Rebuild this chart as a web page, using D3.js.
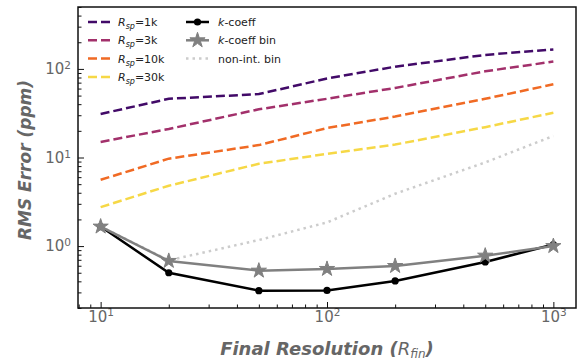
<!DOCTYPE html>
<html>
<head>
<meta charset="utf-8">
<script src="https://cdn.jsdelivr.net/npm/d3@7"></script>
<style>
body { margin: 0; background: #fff; }
svg { display: block; font-family: "DejaVu Sans", sans-serif; }
</style>
</head>
<body>
<svg id="chart" width="583" height="360"></svg>
<script>
// final resolution values (x)
const resolutions = [10, 20, 50, 100, 200, 500, 1000]
// RMS error in ppm
const rsp1k = [31, 46, 52, 78, 106, 144, 166]
const rsp3k = [15, 21, 35, 46, 61, 94, 121]
const rsp10k = [5.6, 9.7, 13.8, 21.5, 29, 46, 67]
const rsp30k = [2.75, 4.8, 8.5, 11, 14, 22, 32]
const kcoeff = [1.66, 0.50, 0.314, 0.316, 0.404, 0.662, 1.04]
const kcoeffBin = [1.66, 0.68, 0.528, 0.552, 0.596, 0.78, 1.0]
const nonIntBin = [1.66, 0.69, 1.17, 1.85, 3.9, 8.8, 17.5]

const xMajor = [10, 100, 1000]
const yMajor = [1, 10, 100]

const svg = d3.select("#chart")
const plotLeft = 78, plotRight = 576, plotTop = 7, plotBottom = 308

const x = d3.scaleLog().domain([Math.pow(10, 0.9), Math.pow(10, 3.1)]).range([plotLeft, plotRight])
const y = d3.scaleLog().domain([0.2, 500]).range([plotBottom, plotTop])

const line = d3.line().x(d => x(d[0])).y(d => y(d[1]))
const pairs = vals => resolutions.map((r, i) => [r, vals[i]])

// minor ticks from the scale's own tick generator
const inside = (s, v) => { const d = s.domain(); return v >= d[0] && v <= d[1] }
const xMinor = x.ticks().filter(v => inside(x, v) && !xMajor.includes(v))
const yMinor = y.ticks().filter(v => inside(y, v) && !yMajor.includes(v))

const tickColor = "#666"

function supLabel(sel) {
    sel.each(function(d) {
        const t = d3.select(this)
        const exp = Math.round(Math.log10(d))
        t.text(null)
        t.append("tspan").text("10")
        t.append("tspan").attr("dy", "-0.5em").attr("font-size", "0.7em").text(exp)
    })
}

// x axis
const gx = svg.append("g").attr("transform", `translate(0,${plotBottom})`)
gx.append("g").call(d3.axisBottom(x).tickValues(xMinor).tickSize(-3.5).tickFormat(""))
const gxMajor = gx.append("g").call(d3.axisBottom(x).tickValues(xMajor).tickSize(-6).tickPadding(3))
gx.selectAll(".domain").remove()
gx.selectAll("line").attr("stroke", "#111").attr("stroke-width", 1)
gxMajor.selectAll("text").attr("font-size", 15).attr("fill", tickColor)
    .attr("font-family", "DejaVu Sans").call(supLabel)

// y axis
const gy = svg.append("g").attr("transform", `translate(${plotLeft},0)`)
gy.append("g").call(d3.axisLeft(y).tickValues(yMinor).tickSize(-3.5).tickFormat(""))
const gyMajor = gy.append("g").call(d3.axisLeft(y).tickValues(yMajor).tickSize(-6).tickPadding(7))
gy.selectAll(".domain").remove()
gy.selectAll("line").attr("stroke", "#111").attr("stroke-width", 1)
gyMajor.selectAll("text").attr("font-size", 15).attr("fill", tickColor)
    .attr("font-family", "DejaVu Sans").call(supLabel)

// frame
svg.append("rect")
    .attr("x", plotLeft).attr("y", plotTop)
    .attr("width", plotRight - plotLeft).attr("height", plotBottom - plotTop)
    .attr("fill", "none").attr("stroke", "#111").attr("stroke-width", 1.5)

// series
const dashedSeries = [
    { label: "1k", vals: rsp1k, color: "#420a68" },
    { label: "3k", vals: rsp3k, color: "#a2306b" },
    { label: "10k", vals: rsp10k, color: "#f06a24" },
    { label: "30k", vals: rsp30k, color: "#f6d846" }
]

const plot = svg.append("g")

plot.append("path")
    .datum(pairs(nonIntBin))
    .attr("d", line)
    .attr("fill", "none")
    .attr("stroke", "#cccccc")
    .attr("stroke-width", 2.5)
    .attr("stroke-dasharray", "2.5,4")

dashedSeries.forEach(s => {
    plot.append("path")
        .datum(pairs(s.vals))
        .attr("d", line)
        .attr("fill", "none")
        .attr("stroke", s.color)
        .attr("stroke-width", 2.5)
        .attr("stroke-dasharray", "9,4")
})

plot.append("path")
    .datum(pairs(kcoeff))
    .attr("d", line)
    .attr("fill", "none")
    .attr("stroke", "#000")
    .attr("stroke-width", 2.5)
plot.selectAll(".dot")
    .data(pairs(kcoeff))
    .join("circle")
    .attr("class", "dot")
    .attr("cx", d => x(d[0]))
    .attr("cy", d => y(d[1]))
    .attr("r", 3.6)
    .attr("fill", "#000")

plot.append("path")
    .datum(pairs(kcoeffBin))
    .attr("d", line)
    .attr("fill", "none")
    .attr("stroke", "#808080")
    .attr("stroke-width", 2.5)
const star = d3.symbol().type(d3.symbolStar).size(72)
plot.selectAll(".star")
    .data(pairs(kcoeffBin))
    .join("path")
    .attr("class", "star")
    .attr("transform", d => `translate(${x(d[0])},${y(d[1])})`)
    .attr("d", star)
    .attr("fill", "#808080")
    .attr("stroke", "#808080")
    .attr("stroke-width", 1)

// legend
const legend = svg.append("g").attr("font-size", 11).attr("fill", "#222")
const rowY = i => 22 + i * 18.3

dashedSeries.forEach((s, i) => {
    legend.append("line")
        .attr("x1", 88).attr("x2", 111)
        .attr("y1", rowY(i)).attr("y2", rowY(i))
        .attr("stroke", s.color).attr("stroke-width", 2.5)
        .attr("stroke-dasharray", "9,4")
    const t = legend.append("text").attr("x", 118).attr("y", rowY(i) + 4)
    t.append("tspan").attr("font-style", "italic").text("R")
    t.append("tspan").attr("font-style", "italic").attr("font-size", 8).attr("dy", 3).text("sp")
    t.append("tspan").attr("dy", -3).text("=" + s.label)
})

const col2 = [
    { kind: "dot" },
    { kind: "star" },
    { kind: "dotted" }
]
col2.forEach((c, i) => {
    const yy = rowY(i)
    if (c.kind === "dotted") {
        legend.append("line")
            .attr("x1", 186).attr("x2", 209).attr("y1", yy).attr("y2", yy)
            .attr("stroke", "#cccccc").attr("stroke-width", 2.5)
            .attr("stroke-dasharray", "2.5,4")
    } else {
        const col = c.kind === "dot" ? "#000" : "#808080"
        legend.append("line")
            .attr("x1", 186).attr("x2", 209).attr("y1", yy).attr("y2", yy)
            .attr("stroke", col).attr("stroke-width", 2.5)
        if (c.kind === "dot") {
            legend.append("circle").attr("cx", 197.5).attr("cy", yy).attr("r", 3.6).attr("fill", col)
        } else {
            legend.append("path").attr("transform", `translate(197.5,${yy})`)
                .attr("d", star).attr("fill", col).attr("stroke", col)
        }
    }
})
const kt = legend.append("text").attr("x", 218).attr("y", rowY(0) + 4)
kt.append("tspan").attr("font-style", "italic").text("k")
kt.append("tspan").text("-coeff")
const kb = legend.append("text").attr("x", 218).attr("y", rowY(1) + 4)
kb.append("tspan").attr("font-style", "italic").text("k")
kb.append("tspan").text("-coeff bin")
legend.append("text").attr("x", 218).attr("y", rowY(2) + 4).text("non-int. bin")

// axis labels
const xl = svg.append("text")
    .attr("x", 327).attr("y", 355)
    .attr("text-anchor", "middle")
    .attr("font-size", 18).attr("fill", "#666")
    .attr("font-weight", "bold").attr("font-style", "italic")
xl.append("tspan").text("Final Resolution (")
xl.append("tspan").attr("font-weight", "normal").text("R")
xl.append("tspan").attr("font-weight", "normal").attr("font-size", 12).attr("dy", 3).text("fin")
xl.append("tspan").attr("dy", -3).text(")")

svg.append("text")
    .attr("transform", `translate(31,160) rotate(-90)`)
    .attr("text-anchor", "middle")
    .attr("font-size", 17).attr("fill", "#666")
    .attr("font-weight", "bold").attr("font-style", "italic")
    .text("RMS Error (ppm)")
</script>
</body>
</html>
